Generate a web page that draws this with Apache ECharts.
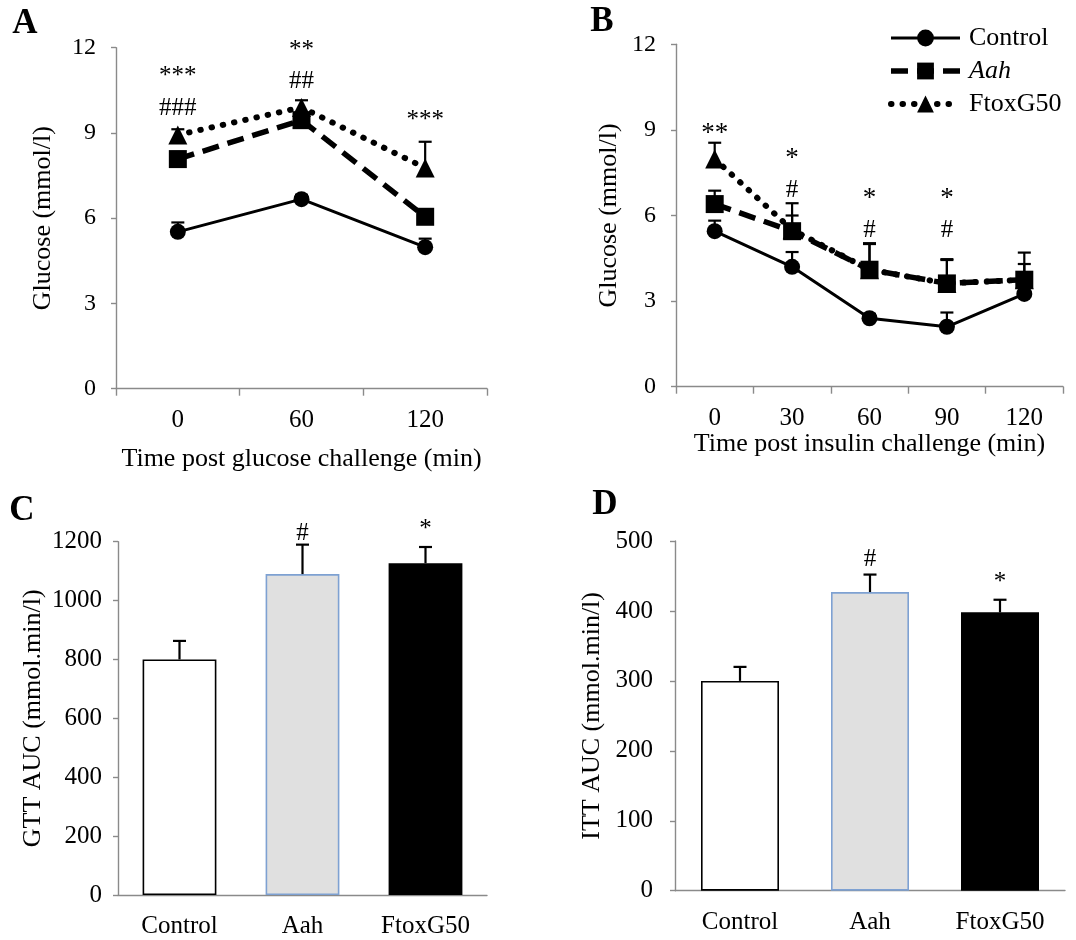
<!DOCTYPE html>
<html><head><meta charset="utf-8">
<script src="https://cdn.jsdelivr.net/npm/echarts@6/dist/echarts.min.js"></script>
<style>html,body{margin:0;padding:0;background:#fff}#c{width:1076px;height:940px}</style>
</head><body><div id="c"></div>
<script>
// ---------- Data ----------
const gttTimes = ['0', '60', '120'];
const gttControl = [5.52, 6.67, 4.98];
const gttControlErr = [0.33, 0.15, 0.3];
const gttAah = [8.08, 9.45, 6.05];
const gttAahErr = [0.25, 0.25, 0.25];
const gttFtox = [8.93, 9.9, 7.77];
const gttFtoxErr = [0.2, 0.25, 0.92];
const gttStars = ['***', '**', '***'];
const gttStarLevel = [11.15, 12.09, 9.63];
const gttHashes = ['###', '##', ''];
const gttHashLevel = [9.87, 10.8, 0];

const ittTimes = ['0', '30', '60', '90', '120'];
const ittControl = [5.45, 4.2, 2.4, 2.1, 3.25];
const ittControlErr = [0.37, 0.52, 0.15, 0.5, 0.2];
const ittAah = [6.4, 5.45, 4.1, 3.62, 3.75];
const ittAahErr = [0.47, 0.98, 0.9, 0.85, 0.55];
const ittFtox = [7.98, 5.5, 4.1, 3.62, 3.75];
const ittFtoxErr = [0.57, 0.5, 0.93, 0.82, 0.95];
const ittStars = ['**', '*', '*', '*', ''];
const ittStarLevel = [9.06, 8.18, 6.8, 6.8, 0];
const ittHashes = ['', '#', '#', '#', ''];
const ittHashLevel = [0, 6.87, 5.49, 5.49, 0];

const groups = ['Control', 'Aah', 'FtoxG50'];
const gttAuc = [800, 1090, 1127];
const gttAucErr = [63, 100, 55];
const gttAucMarks = ['', '#', '*'];
const gttAucMarkLevel = [0, 1229, 1241];
const ittAuc = [300, 427, 398];
const ittAucErr = [20, 25, 18];
const ittAucMarks = ['', '#', '*'];
const ittAucMarkLevel = [0, 473, 441];

const glucoseTicks = [0, 3, 6, 9, 12];
const gttAucTicks = [0, 200, 400, 600, 800, 1000, 1200];
const ittAucTicks = [0, 100, 200, 300, 400, 500];

// ---------- Styling helpers ----------
const FF = '"Liberation Serif", "Times New Roman", serif';
const AX = '#8a8a8a';

function valueAxis(gi, ticks, name, nameGap, fs, margin) {
  return {
    type: 'value', gridIndex: gi,
    min: ticks[0], max: ticks[ticks.length - 1], interval: ticks[1] - ticks[0],
    name: name, nameLocation: 'middle', nameGap: nameGap, nameRotate: 90,
    nameTextStyle: { fontFamily: FF, fontSize: 26, color: '#000' },
    axisLine: { show: true, lineStyle: { color: AX, width: 1.4 } },
    axisTick: { show: true, length: 5, lineStyle: { color: AX, width: 1.4 } },
    axisLabel: { fontFamily: FF, fontSize: fs, color: '#000', margin: margin, formatter: v => String(v) },
    splitLine: { show: false }
  };
}
function catAxis(gi, cats, name, nameGap, ticks) {
  return {
    type: 'category', gridIndex: gi, data: cats, boundaryGap: true,
    name: name, nameLocation: 'middle', nameGap: nameGap,
    nameTextStyle: { fontFamily: FF, fontSize: 26, color: '#000' },
    axisLine: { show: true, lineStyle: { color: AX, width: 1.4 } },
    axisTick: { show: ticks, length: 7, alignWithLabel: false, lineStyle: { color: AX, width: 1.4 } },
    axisLabel: { fontFamily: FF, fontSize: 25, color: '#000', margin: 19 },
    splitLine: { show: false }
  };
}
function errSeries(gi, values, errs, cap, z) {
  return {
    type: 'custom', xAxisIndex: gi, yAxisIndex: gi, z: z, silent: true,
    data: values.map((v, i) => [i, v, errs[i]]),
    renderItem: (p, api) => {
      const i = api.value(0), v = api.value(1), e = api.value(2);
      const a = api.coord([i, v]), b = api.coord([i, v + e]);
      return { type: 'group', children: [
        { type: 'line', shape: { x1: a[0], y1: a[1], x2: b[0], y2: b[1] }, style: { stroke: '#000', lineWidth: 2.2 } },
        { type: 'line', shape: { x1: b[0] - cap, y1: b[1], x2: b[0] + cap, y2: b[1] }, style: { stroke: '#000', lineWidth: 2.2 } }
      ] };
    }
  };
}
function annSeries(gi, texts, levels, dy, fs) {
  const items = [];
  texts.forEach((t, i) => { if (t) items.push({ i: i, level: levels[i], t: t }); });
  return {
    type: 'custom', xAxisIndex: gi, yAxisIndex: gi, z: 6, silent: true, clip: false,
    data: items.map(o => [o.i, o.level]),
    renderItem: (p, api) => {
      const c = api.coord([api.value(0), api.value(1)]);
      return { type: 'text', x: c[0], y: c[1] + dy,
        style: { text: items[p.dataIndex].t, font: fs + 'px ' + FF, fill: '#000', align: 'center', verticalAlign: 'middle' } };
    }
  };
}
const lineStyles = {
  Control: { symbol: 'circle', symbolSize: 16, z: 5, lineStyle: { color: '#000', width: 3, type: 'solid' } },
  Aah: { symbol: 'rect', symbolSize: 18, z: 4, lineStyle: { color: '#000', width: 5.5, type: [17, 9] } },
  FtoxG50: { symbol: 'triangle', symbolSize: 19, z: 3, lineStyle: { color: '#000', width: 6, type: [0.5, 11], cap: 'round' } }
};
function lineSeries(gi, name, values) {
  const s = lineStyles[name];
  return {
    type: 'line', name: name, xAxisIndex: gi, yAxisIndex: gi, z: s.z,
    data: values, symbol: s.symbol, symbolSize: s.symbolSize,
    itemStyle: { color: '#000', borderWidth: 0 },
    lineStyle: s.lineStyle, animation: false
  };
}
const barStyles = [
  { color: '#ffffff', borderColor: '#000', borderWidth: 1.6 },
  { color: '#e0e0e0', borderColor: '#7ea1d2', borderWidth: 1.6 },
  { color: '#000000', borderColor: '#000', borderWidth: 1.6 }
];
function barSeries(gi, name, values) {
  return {
    type: 'bar', name: name, xAxisIndex: gi, yAxisIndex: gi, barWidth: '60%', z: 2,
    data: values.map((v, i) => ({ value: v, itemStyle: barStyles[i] })),
    animation: false
  };
}

const option = {
  backgroundColor: '#fff',
  animation: false,
  grid: [
    { left: 116, top: 47.7, width: 371, height: 341 },
    { left: 676, top: 44.3, width: 387, height: 342.4 },
    { left: 118, top: 541.7, width: 369, height: 353.3 },
    { left: 675, top: 541, width: 390, height: 349.7 }
  ],
  xAxis: [
    catAxis(0, gttTimes, 'Time post glucose challenge (min)', 57, true),
    catAxis(1, ittTimes, 'Time post insulin challenge (min)', 38, true),
    catAxis(2, groups, '', 30, false),
    catAxis(3, groups, '', 30, false)
  ],
  yAxis: [
    valueAxis(0, glucoseTicks, 'Glucose (mmol/l)', 60, 24, 20),
    valueAxis(1, glucoseTicks, 'Glucose (mmol/l)', 54, 24, 20),
    valueAxis(2, gttAucTicks, 'GTT AUC (mmol.min/l)', 72, 25, 16),
    valueAxis(3, ittAucTicks, 'ITT AUC (mmol.min/l)', 70, 25, 22)
  ],
  legend: {
    data: ['Control', 'Aah', 'FtoxG50'], orient: 'vertical', left: 888, top: 25,
    itemWidth: 69, itemHeight: 21, itemGap: 7, padding: 0, selectedMode: false,
    lineStyle: { width: 'inherit' },
    textStyle: { fontFamily: FF, fontSize: 26, color: '#000', lineHeight: 26, padding: [0, 0, 0, 4],
      rich: { i: { fontFamily: FF, fontSize: 26, fontStyle: 'italic', color: '#000', lineHeight: 26 } } },
    formatter: n => n === 'Aah' ? '{i|Aah}' : n
  },
  graphic: [
    { type: 'text', x: 25, y: 24, style: { text: 'A', font: 'bold 35px ' + FF, fill: '#000', align: 'center', verticalAlign: 'middle' } },
    { type: 'text', x: 602, y: 22, style: { text: 'B', font: 'bold 35px ' + FF, fill: '#000', align: 'center', verticalAlign: 'middle' } },
    { type: 'text', x: 22, y: 511, style: { text: 'C', font: 'bold 35px ' + FF, fill: '#000', align: 'center', verticalAlign: 'middle' } },
    { type: 'text', x: 605, y: 505, style: { text: 'D', font: 'bold 35px ' + FF, fill: '#000', align: 'center', verticalAlign: 'middle' } }
  ],
  series: [
    errSeries(0, gttControl, gttControlErr, 6.5, 1),
    errSeries(0, gttAah, gttAahErr, 6.5, 1),
    errSeries(0, gttFtox, gttFtoxErr, 6.5, 1),
    lineSeries(0, 'Control', gttControl),
    lineSeries(0, 'Aah', gttAah),
    lineSeries(0, 'FtoxG50', gttFtox),
    annSeries(0, gttStars, gttStarLevel, 5, 25),
    annSeries(0, gttHashes, gttHashLevel, 0, 25),

    errSeries(1, ittControl, ittControlErr, 6.5, 1),
    errSeries(1, ittAah, ittAahErr, 6.5, 1),
    errSeries(1, ittFtox, ittFtoxErr, 6.5, 1),
    lineSeries(1, 'Control', ittControl),
    lineSeries(1, 'Aah', ittAah),
    lineSeries(1, 'FtoxG50', ittFtox),
    annSeries(1, ittStars, ittStarLevel, 6, 27),
    annSeries(1, ittHashes, ittHashLevel, 0, 25),

    barSeries(2, 'GTT AUC', gttAuc),
    errSeries(2, gttAuc, gttAucErr, 6.5, 3),
    annSeries(2, gttAucMarks, gttAucMarkLevel, 0, 25),

    barSeries(3, 'ITT AUC', ittAuc),
    errSeries(3, ittAuc, ittAucErr, 6.5, 3),
    annSeries(3, ittAucMarks, ittAucMarkLevel, 0, 25)
  ]
};
const chart = echarts.init(document.getElementById('c'), null, { renderer: 'canvas' });
chart.setOption(option);
</script></body></html>
